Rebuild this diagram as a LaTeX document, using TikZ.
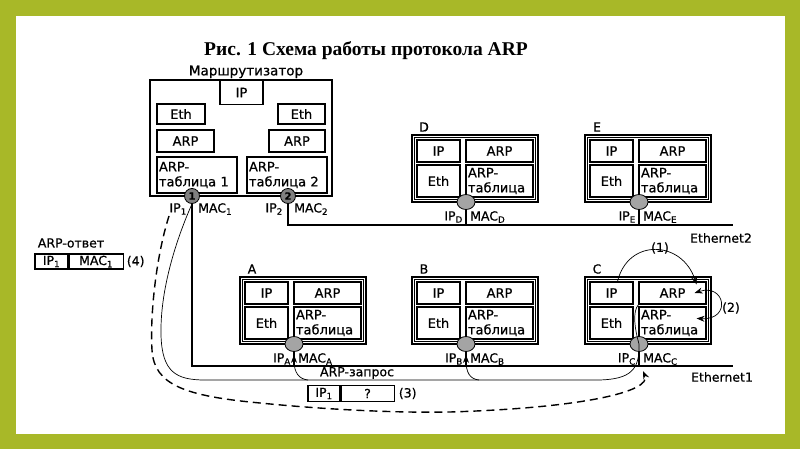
\documentclass[tikz,border=0pt]{standalone}
\usepackage{fontspec}
\setmainfont{DejaVu Sans}[FakeBold=0.6]
\newfontfamily\titlefont{Liberation Serif}
\usetikzlibrary{positioning,arrows.meta,shapes.geometric}
\definecolor{framegreen}{HTML}{A8B828}
\definecolor{portgray}{HTML}{A4A4A4}
\definecolor{rportgray}{HTML}{808080}
\begin{document}
\begin{tikzpicture}[x=1pt,y=-1pt,
  cell/.style={draw, line width=1.1pt, inner sep=0pt, font=\fontsize{13}{15}\selectfont},
  tabcell/.style={cell, align=left, inner xsep=2pt, text width=#1},
  port/.style={ellipse, draw, line width=0.8pt, fill=portgray, minimum width=18pt, minimum height=15pt, inner sep=0pt},
  rport/.style={circle, draw, line width=0.8pt, fill=rportgray, minimum size=15pt, inner sep=0pt, font=\fontsize{10}{10}\selectfont\bfseries},
  lbl/.style={inner sep=1pt, font=\fontsize{12.5}{14}\selectfont},
  bus/.style={line width=2pt},
  drop/.style={line width=1.4pt},
  req/.style={line width=0.7pt},
  reply/.style={line width=1.4pt, dash pattern=on 8pt off 5pt},
  arrowhd/.style={-{Stealth[length=8pt,width=6pt]}},
  msg/.style={draw, line width=1.1pt, minimum height=16pt, inner sep=0pt, font=\fontsize{12.5}{14}\selectfont}]
\useasboundingbox (0,0) rectangle (800,449);
% Frame
\fill[framegreen] (0,0) rectangle (800,449);
\fill[white] (16,16) rectangle (785,434);
% Title
\node[font=\titlefont\bfseries\fontsize{19.5}{22}\selectfont] (title) at (366,51) {Рис. 1 Схема работы протокола ARP};
% Router
\node[draw, line width=1.3pt, minimum width=182pt, minimum height=116pt, inner sep=0pt] (router) at (241,138) {};
\node[lbl, font=\fontsize{13.5}{15}\selectfont, anchor=south] (rname) at ([xshift=5pt]router.north) {Маршрутизатор};
\node[cell, minimum width=43pt, minimum height=24pt] (r-ip) at (241.5,92.5) {IP};
\node[cell, minimum width=48pt, minimum height=20pt] (r-eth1) at (181,114) {Eth};
\node[cell, minimum width=47pt, minimum height=20pt] (r-eth2) at (301.5,114) {Eth};
\node[cell, minimum width=57pt, minimum height=22pt] (r-arp1) at (185.5,141) {ARP};
\node[cell, minimum width=56pt, minimum height=22pt] (r-arp2) at (297,141) {ARP};
\node[tabcell=76pt, minimum height=36pt] (r-tab1) at (197,175) {ARP-\\таблица 1};
\node[tabcell=76pt, minimum height=36pt] (r-tab2) at (287,175) {ARP-\\таблица 2};
\node[rport] (p1) at (192,196) {1};
\node[rport] (p2) at (288,196) {2};
\node[lbl, anchor=east] (ip1) at (188,209) {IP\textsubscript{1}};
\node[lbl, anchor=west] (mac1) at (197,209) {MAC\textsubscript{1}};
\node[lbl, anchor=east] (ip2) at (284,209) {IP\textsubscript{2}};
\node[lbl, anchor=west] (mac2) at (293,209) {MAC\textsubscript{2}};
% Ethernet segments
\coordinate (eth1w) at (192,366);
\coordinate (eth1e) at (733,366);
\coordinate (eth2w) at (288,225);
\coordinate (eth2e) at (733,225);
\draw[bus] (p1.south) -- (eth1w) -- (eth1e);
\draw[bus] (p2.south) -- (eth2w) -- (eth2e);
\node[lbl] (eth1lbl) at (722,377) {Ethernet1};
\node[lbl] (eth2lbl) at (721,238) {Ethernet2};
% Hosts
\foreach \h/\X/\Y/\busname in {D/412/135/eth2w, E/585/135/eth2w, A/240/277/eth1w, B/412/277/eth1w, C/585/277/eth1w}{
  \draw[line width=1.2pt] (\X,\Y) rectangle ++(126,67);
  \draw[line width=0.8pt] (\X+2.5,\Y+2.5) rectangle ++(121,62);
  \node[cell, minimum width=43pt, minimum height=22pt] (\h-ip) at (\X+26.5,\Y+16) {IP};
  \node[cell, minimum width=67pt, minimum height=22pt] (\h-arp) at (\X+87.5,\Y+16) {ARP};
  \node[cell, minimum width=43pt, minimum height=32pt] (\h-eth) at (\X+26.5,\Y+46) {Eth};
  \node[tabcell=63pt, minimum height=32pt] (\h-tab) at (\X+87.5,\Y+46) {ARP-\\таблица};
  \draw[drop] (\X+54,\Y+67) -- (\X+54,\Y+67 |- \busname);
  \node[port] (\h-port) at (\X+54,\Y+67) {};
  \node[lbl, anchor=east] (\h-ipl) at (\X+52,\Y+82) {IP\textsubscript{\h}};
  \node[lbl, anchor=west] (\h-macl) at (\X+57,\Y+82) {MAC\textsubscript{\h}};
  \node[lbl] (\h-name) at (\X+12,\Y-8) {\h};
}
% ARP request
\coordinate (reqA) at (308,380);
\coordinate (reqB) at (479,380);
\draw[req] (p1.south) .. controls (176,240) and (160,290) .. (161,335) .. controls (162,372) and (176,380) .. (205,380) -- (600,380) .. controls (630,379) and (640,370) .. (C-port.center) .. controls (635,330) and (632,312) .. (C-arp.south west);
\draw[req, arrowhd] (reqA) .. controls (299,379) and (294,373) .. ([yshift=-3pt]A-port.south);
\draw[req, arrowhd] (reqB) .. controls (470,379) and (466,373) .. ([yshift=-3pt]B-port.south);
\node[lbl] (reqlbl) at (357,373) {ARP-запрос};
\node[msg, minimum width=32pt] (q-ip) at (324,393.5) {IP\textsubscript{1}};
\node[msg, minimum width=53pt, right=0pt of q-ip] (q-mac) {?};
\node[lbl, right=3pt of q-mac] (n3) {(3)};
% Steps inside C
\draw[req, arrowhd] ([xshift=6pt]C-ip.north) .. controls (628,238) and (682,240) .. ([xshift=-10pt,yshift=-3pt]C-arp.north east);
\node[lbl] (n1) at (660,248) {(1)};
\draw[req, {Stealth[length=8pt,width=6pt]}-{Stealth[length=8pt,width=6pt]}] ([xshift=-12pt]C-arp.east) .. controls (725,283) and (732,320) .. ([xshift=-10pt,yshift=-12pt]C-tab.north east);
\node[lbl] (n2) at (731,308) {(2)};
% ARP reply
\coordinate (rep1) at (169,216);
\draw[reply, arrowhd] (rep1) .. controls (155,260) and (150,320) .. (152,350) .. controls (154,385) and (185,396) .. (260,403) .. controls (330,410) and (400,413) .. (450,412) .. controls (580,408) and (652,392) .. (643,371);
\node[lbl] (replbl) at (71,243) {ARP-ответ};
\node[msg, minimum width=33pt, minimum height=15pt] (a-ip) at (51.5,261.5) {IP\textsubscript{1}};
\node[msg, minimum width=54pt, minimum height=15pt, right=0pt of a-ip] (a-mac) {MAC\textsubscript{1}};
\node[lbl, right=2pt of a-mac] (n4) {(4)};
\end{tikzpicture}
\end{document}
